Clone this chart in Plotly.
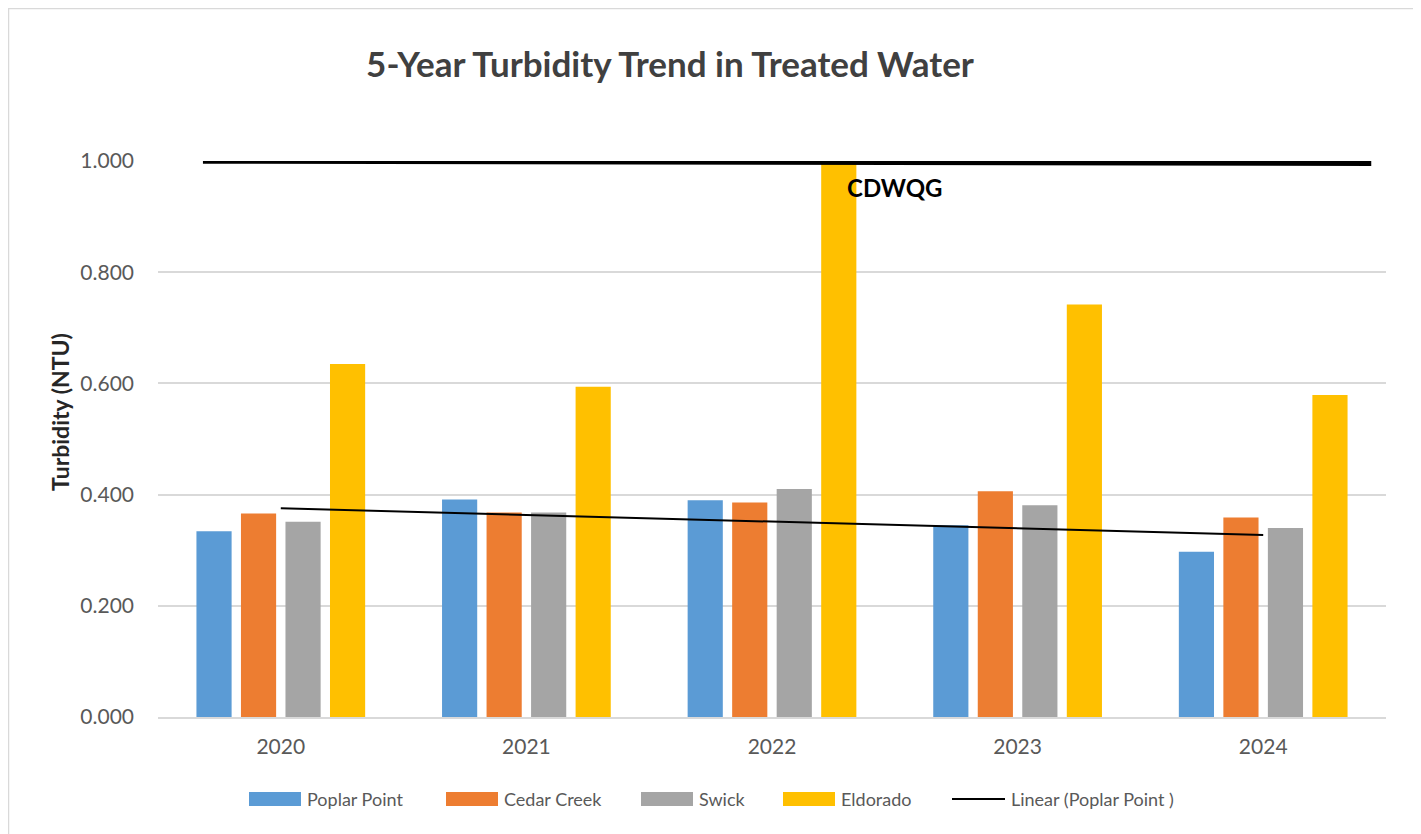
import plotly.graph_objects as go
import numpy as np

years = ["2020", "2021", "2022", "2023", "2024"]
poplar_point = [0.334, 0.391, 0.390, 0.345, 0.297]
cedar_creek = [0.366, 0.368, 0.386, 0.406, 0.359]
swick = [0.351, 0.368, 0.410, 0.381, 0.340]
eldorado = [0.635, 0.594, 1.000, 0.742, 0.579]
guideline_value = 1.0
guideline_label = "CDWQG"
y_ticks = [0.0, 0.2, 0.4, 0.6, 0.8, 1.0]
trend_name = "Linear (Poplar Point )"

x = list(range(len(years)))
font_family = "Lato, Open Sans, sans-serif"

# figure geometry (pixels inside the figure)
W, H = 1413, 826
L, R, T, B = 150, 35, 153, 117
PW, PH = W - L - R, H - T - B


def px_x(fx):
    return (fx - L) / PW


def px_y(fy):
    return (H - B - fy) / PH


# linear trendline of Poplar Point (least squares on category index)
slope, intercept = np.polyfit(x, poplar_point, 1)
trend_y = [slope * xi + intercept for xi in x]

fig = go.Figure()
series = [
    ("Poplar Point", poplar_point, "#5B9BD5"),
    ("Cedar Creek", cedar_creek, "#ED7D31"),
    ("Swick", swick, "#A5A5A5"),
    ("Eldorado", eldorado, "#FFC000"),
]
for name, vals, col in series:
    fig.add_trace(go.Bar(x=x, y=vals, name=name, marker_color=col,
                         marker_line_width=0, showlegend=False))

fig.add_trace(go.Scatter(x=x, y=trend_y, mode="lines", name=trend_name,
                         line=dict(color="black", width=2), showlegend=False))

# CDWQG guideline (drawn line, as in the original)
fig.add_shape(type="line", xref="x", yref="y", x0=-0.317, x1=4.44,
              y0=guideline_value, y1=guideline_value - 0.004,
              line=dict(color="black", width=5.5), layer="above")
fig.add_annotation(x=2.5, y=guideline_value - 0.048, xref="x", yref="y",
                   text="<b>%s</b>" % guideline_label, showarrow=False,
                   font=dict(family=font_family, size=24, color="black"))

# outer chart border
fig.add_shape(type="rect", xref="paper", yref="paper",
              x0=px_x(0.5), x1=px_x(1407), y0=px_y(H + 20), y1=px_y(0.5),
              line=dict(color="#D9D9D9", width=1.5), layer="below")

# y-axis title
fig.add_annotation(xref="paper", yref="paper", x=px_x(52), y=px_y(404),
                   xanchor="center", yanchor="middle",
                   text="<b>Turbidity (NTU)</b>", textangle=-90, showarrow=False,
                   font=dict(family=font_family, size=23, color="#262626"))

# legend (drawn below the plot, Excel style)
legend_sym_x = [241, 438, 633, 775, 944]
legend_y = 791
for (name, _, col), sx in zip(series, legend_sym_x[:4]):
    fig.add_shape(type="rect", xref="paper", yref="paper",
                  x0=px_x(sx), x1=px_x(sx + 52), y0=px_y(legend_y + 7), y1=px_y(legend_y - 7),
                  fillcolor=col, line=dict(width=0))
    fig.add_annotation(xref="paper", yref="paper", x=px_x(sx + 56), y=px_y(legend_y),
                       xanchor="left", yanchor="middle", text=name, showarrow=False,
                       font=dict(family=font_family, size=18, color="#595959"))
sx = legend_sym_x[4]
fig.add_shape(type="line", xref="paper", yref="paper",
              x0=px_x(sx), x1=px_x(sx + 53), y0=px_y(legend_y), y1=px_y(legend_y),
              line=dict(color="black", width=2))
fig.add_annotation(xref="paper", yref="paper", x=px_x(sx + 57), y=px_y(legend_y),
                   xanchor="left", yanchor="middle", text=trend_name, showarrow=False,
                   font=dict(family=font_family, size=18, color="#595959"))

fig.update_layout(
    width=W, height=H,
    margin=dict(l=L, r=R, t=T, b=B),
    paper_bgcolor="white", plot_bgcolor="white",
    barmode="group", bargap=0.275, bargroupgap=0.21,
    title=dict(text="<b>5-Year Turbidity Trend in Treated Water</b>",
               x=662 / W, xanchor="center", y=1 - 57 / H, yanchor="middle",
               font=dict(family=font_family, size=35, color="#404040")),
    font=dict(family=font_family, color="#595959"),
    xaxis=dict(tickmode="array", tickvals=x, ticktext=years,
               range=[-0.5, 4.5], showgrid=False, zeroline=False,
               showline=True, linecolor="#D9D9D9", linewidth=1.5,
               ticks="", ticklabelstandoff=10,
               tickfont=dict(size=21, color="#595959")),
    yaxis=dict(range=[0, 1.0], tickvals=y_ticks, tickformat=".3f",
               showgrid=True, gridcolor="#D9D9D9", gridwidth=1.5,
               zeroline=False, showline=False, ticks="",
               ticklabelstandoff=23,
               tickfont=dict(size=21, color="#595959")),
    showlegend=False,
)

fig.write_html("out.html")
